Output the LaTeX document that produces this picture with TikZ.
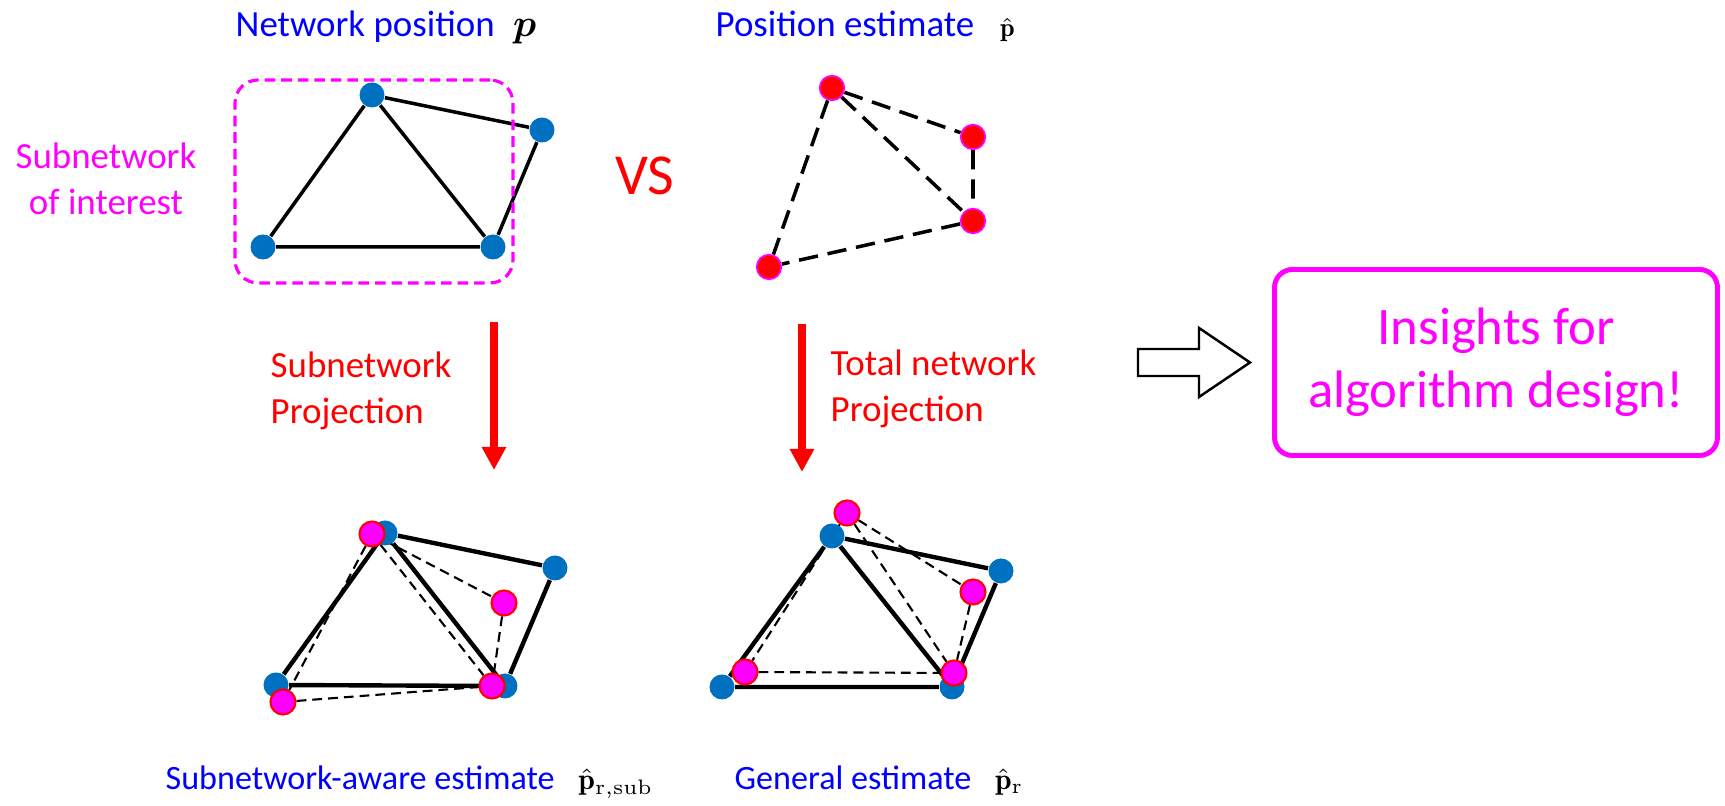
\documentclass[tikz,border=0pt]{standalone}
\usepackage{fontspec}
\setsansfont{Carlito}
\usepackage{bm}
\usetikzlibrary{arrows.meta,backgrounds}
\definecolor{nodeblue}{HTML}{0070C0}
\definecolor{ttlblue}{HTML}{0000FF}
\definecolor{hilite}{HTML}{FF00FF}
\definecolor{projred}{HTML}{FF0000}

\begin{document}
\begin{tikzpicture}[
  font=\sffamily,
  bnode/.style={circle, fill=nodeblue, inner sep=0pt, minimum size=0.25cm},
  rnode/.style={circle, fill=projred, draw=hilite, line width=0.5pt, inner sep=0pt, minimum size=0.245cm},
  mnode/.style={circle, fill=hilite, draw=projred, line width=0.6pt, inner sep=0pt, minimum size=0.25cm},
  truelink/.style={line width=1pt},
  estlink/.style={line width=1pt, dash pattern=on 5.5pt off 2.8pt},
  projtrue/.style={line width=1.25pt},
  projest/.style={line width=0.6pt, dash pattern=on 2.8pt off 1.7pt},
  projarrow/.style={-{Triangle[width=0.23cm,length=0.23cm]}, line width=2.3pt, draw=projred},
  subbox/.style={draw=hilite, line width=0.9pt, dash pattern=on 3pt off 1.7pt, rounded corners=0.23cm},
  ttl/.style={font=\sffamily\fontsize{10.5}{13}\selectfont, text=ttlblue, inner sep=0pt},
  btm/.style={font=\sffamily\fontsize{9.7}{12}\selectfont, text=ttlblue, inner sep=0pt},
  lbl/.style={font=\sffamily\fontsize{10.5}{13}\selectfont, text=projred, inner sep=0pt, align=left, anchor=west},
]
\useasboundingbox (0,0) rectangle (17.25,8.06);

% ===== top row: true network vs. estimate =====
\node[ttl, anchor=base west] (t1) at (2.35,7.69) {Network position\hspace{0.5em}\textcolor{black}{$\bm{p}$}};
\node[ttl, anchor=base west] (t2) at (7.15,7.69) {Position estimate\hspace{0.7em}\textcolor{black}{\fontsize{7.5}{8}\selectfont$\hat{\mathbf{p}}$}};

\node[bnode] (p1) at (3.72,7.11) {};
\node[bnode] (p2) at (5.42,6.76) {};
\node[bnode] (p3) at (2.63,5.59) {};
\node[bnode] (p4) at (4.93,5.59) {};
\draw[truelink] (p1)--(p2) (p1)--(p3) (p1)--(p4) (p3)--(p4) (p2)--(p4);

\node[subbox, minimum width=2.78cm, minimum height=2.03cm] (sub) at (3.74,6.245) {};
\node[ttl, text=hilite, align=center] (subtxt) at (1.06,6.27) {Subnetwork\\of interest};

\node[font=\sffamily\fontsize{16.5}{19}\selectfont, text=projred] (vs) at (6.45,6.30) {VS};

\node[rnode] (q1) at (8.32,7.18) {};
\node[rnode] (q2) at (9.73,6.69) {};
\node[rnode] (q3) at (9.73,5.85) {};
\node[rnode] (q4) at (7.69,5.39) {};
\begin{scope}[on background layer]
  \draw[estlink] (q1)--(q2) (q1)--(q3) (q1)--(q4) (q2)--(q3) (q3)--(q4);
\end{scope}

% ===== projections =====
\coordinate (a1s) at (4.94,4.84); \coordinate (a1e) at (4.94,3.36);
\coordinate (a2s) at (8.02,4.82); \coordinate (a2e) at (8.02,3.34);
\draw[projarrow] (a1s)--(a1e);
\draw[projarrow] (a2s)--(a2e);
\node[lbl] (l1) at (2.70,4.15) {Subnetwork\\Projection};
\node[lbl] (l2) at (8.30,4.17) {Total network\\Projection};

% ===== bottom left: subnetwork-aware =====
\node[bnode] (b1) at (3.85,2.73) {};
\node[bnode] (b2) at (5.55,2.38) {};
\node[bnode] (b3) at (2.76,1.21) {};
\node[bnode] (b4) at (5.05,1.20) {};
\node[mnode] (s1) at (3.72,2.72) {};
\node[mnode] (s2) at (5.04,2.03) {};
\node[mnode] (s3) at (2.83,1.04) {};
\node[mnode] (s4) at (4.92,1.20) {};
\begin{scope}[on background layer]
  \draw[projtrue] (b1)--(b2) (b1)--(b3) (b1)--(b4) (b3)--(b4) (b2)--(b4);
  \draw[projest] (s1)--(s2) (s1)--(s3) (s1)--(s4) (s3)--(s4) (s2)--(s4);
\end{scope}

% ===== bottom right: general =====
\node[bnode] (c1) at (8.32,2.70) {};
\node[bnode] (c2) at (10.01,2.35) {};
\node[bnode] (c3) at (7.22,1.19) {};
\node[bnode] (c4) at (9.52,1.19) {};
\node[mnode] (g1) at (8.47,2.93) {};
\node[mnode] (g2) at (9.73,2.14) {};
\node[mnode] (g3) at (7.45,1.34) {};
\node[mnode] (g4) at (9.54,1.33) {};
\begin{scope}[on background layer]
  \draw[projtrue] (c1)--(c2) (c1)--(c3) (c1)--(c4) (c3)--(c4) (c2)--(c4);
  \draw[projest] (g1)--(g2) (g1)--(g3) (g1)--(g4) (g3)--(g4) (g2)--(g4);
\end{scope}

\node[btm, anchor=base west] (e1) at (1.65,0.16) {Subnetwork-aware estimate\hspace{0.7em}\textcolor{black}{\fontsize{8.5}{9}\selectfont$\hat{\mathbf{p}}_{\mathrm{r,sub}}$}};
\node[btm, anchor=base west] (e2) at (7.34,0.16) {General estimate\hspace{0.7em}\textcolor{black}{\fontsize{8.5}{9}\selectfont$\hat{\mathbf{p}}_{\mathrm{r}}$}};

% ===== conclusion =====
\draw[line width=0.7pt, fill=white] (11.38,4.57) -- (11.99,4.57) -- (11.99,4.78) -- (12.50,4.435)
  -- (11.99,4.09) -- (11.99,4.30) -- (11.38,4.30) -- cycle;
\node[draw=hilite, line width=1.4pt, rounded corners=0.18cm, minimum width=4.43cm, minimum height=1.86cm,
      align=center, text=hilite, font=\sffamily\fontsize{15}{18}\selectfont] (ins) at (14.96,4.435)
  {Insights for\\algorithm design!};

\end{tikzpicture}
\end{document}
